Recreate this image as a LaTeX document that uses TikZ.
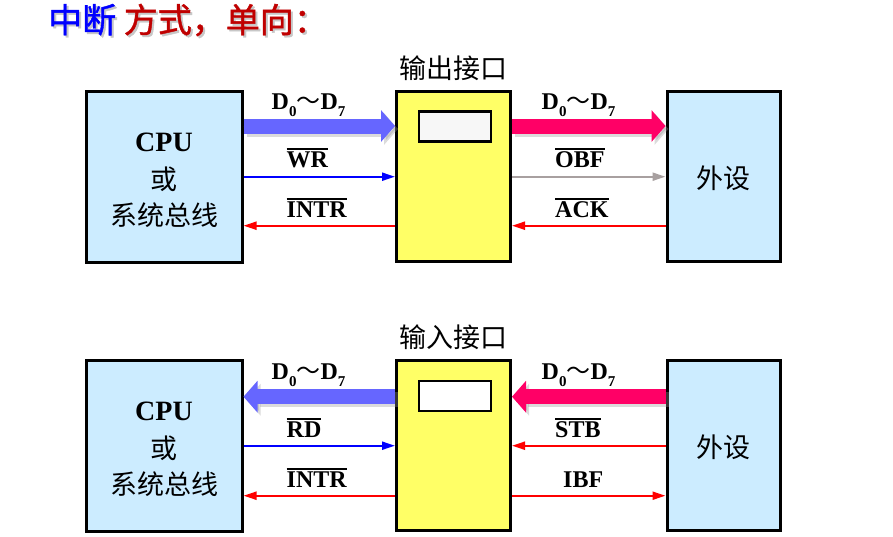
\documentclass[tikz,border=0pt]{standalone}
\usepackage{fontspec}
\setmainfont{Liberation Serif}
\newfontfamily\cjk{Noto Sans CJK SC}
\newfontfamily\cjkt[FakeBold=1.2]{Noto Sans CJK SC}
\usetikzlibrary{arrows.meta}
\definecolor{boxblue}{HTML}{CCECFF}
\definecolor{ifyellow}{HTML}{FFFF66}
\definecolor{fatblue}{HTML}{6666FF}
\definecolor{fatpink}{HTML}{FF0066}
\definecolor{titlered}{HTML}{C00000}
\definecolor{obfgray}{HTML}{A8A0A0}
\newcommand\mysub[1]{\raisebox{-0.28em}{\fontsize{15}{15}\selectfont #1}}
\newcommand\myov[1]{\leavevmode\vbox{\hrule height 1.8pt\kern 2.2pt\hbox{#1}}}
\newcommand\dd{D\mysub{0}{\cjk\mdseries ～}D\mysub{7}}
\tikzset{
  sidebox/.style={draw=black,line width=3pt,fill=boxblue,minimum width=156pt,minimum height=171pt,inner sep=0pt},
  periph/.style={draw=black,line width=3pt,fill=boxblue,minimum width=113pt,minimum height=170pt,inner sep=0pt},
  intfbox/.style={draw=black,line width=3pt,fill=ifyellow,minimum width=114pt,minimum height=170pt,inner sep=0pt},
  reg/.style={draw=black,line width=2.5pt,minimum width=72pt,minimum height=30pt,inner sep=0pt},
  fat/.style={line width=15pt,-{Triangle[length=14pt,width=31pt]}},
  fatshadow/.style={fat,draw=black!40,opacity=0.35},
  thin/.style={line width=2pt,-{Triangle[length=13pt,width=8pt]}},
  lbl/.style={font=\fontsize{24}{24}\selectfont\bfseries,anchor=west,inner sep=0pt},
  cjklabel/.style={font=\cjk\fontsize{27}{27}\selectfont,inner sep=0pt}
}
\begin{document}
\begin{tikzpicture}[x=1pt,y=-1pt]
\useasboundingbox[fill=white] (0,0) rectangle (893,536);
% title (with its soft shadow)
\node[anchor=west,inner sep=0pt,text=black!22,font=\cjkt\fontsize{34}{34}\selectfont] (tshadow) at (50,22) {中断 方式，单向：};
\node[anchor=west,inner sep=0pt,font=\cjkt\fontsize{34}{34}\selectfont] (title) at (48,20) {\textcolor{blue}{中断} \textcolor{titlered}{方式，单向：}};

% ---------- top: output ----------
\node[sidebox] (cpu1) at (164,176.5) {};
\node[font=\fontsize{28}{28}\selectfont\bfseries,inner sep=0pt] (cpu1a) at (164,142) {CPU};
\node[cjklabel] (cpu1b) at (164,179) {或};
\node[cjklabel] (cpu1c) at (164,215) {系统总线};
\node[intfbox] (if1) at (453.5,176.5) {};
\node[reg,fill=black!3] (reg1) at (455,126.7) {};
\node[cjklabel] (if1t) at (453.5,68) {输出接口};
\node[periph] (pe1) at (723.5,176.5) {};
\node[cjklabel] (pe1t) at (723.5,178) {外设};

\draw[fatshadow] ([xshift=3pt,yshift=-3pt]cpu1.east |- 0,126) -- ([xshift=3pt,yshift=-3pt]if1.west |- 0,126);
\draw[fat,draw=fatblue,fill=fatblue] (cpu1.east |- 0,126) -- (if1.west |- 0,126);
\draw[fatshadow] ([xshift=3pt,yshift=-3pt]if1.east |- 0,126) -- ([xshift=3pt,yshift=-3pt]pe1.west |- 0,126);
\draw[fat,draw=fatpink,fill=fatpink] (if1.east |- 0,126) -- (pe1.west |- 0,126);
\draw[thin,blue] (cpu1.east |- 0,176.7) -- (if1.west |- 0,176.7);
\draw[thin,red] (if1.west |- 0,225.7) -- (cpu1.east |- 0,225.7);
\draw[thin,obfgray] (if1.east |- 0,176.7) -- (pe1.west |- 0,176.7);
\draw[thin,red] (pe1.west |- 0,225.7) -- (if1.east |- 0,225.7);

\node[lbl] (l1) at (271.5,105) {\dd};
\node[lbl] (l2) at (286.5,158) {\myov{WR}};
\node[lbl] (l3) at (286.5,208) {\myov{INTR}};
\node[lbl] (l4) at (541.5,105) {\dd};
\node[lbl] (l5) at (555,158) {\myov{OBF}};
\node[lbl] (l6) at (555,208) {\myov{ACK}};

% ---------- bottom: input ----------
\node[sidebox] (cpu2) at (164,445.5) {};
\node[font=\fontsize{28}{28}\selectfont\bfseries,inner sep=0pt] (cpu2a) at (164,411) {CPU};
\node[cjklabel] (cpu2b) at (164,448) {或};
\node[cjklabel] (cpu2c) at (164,484) {系统总线};
\node[intfbox] (if2) at (453.5,445.5) {};
\node[reg,fill=white] (reg2) at (455,396.2) {};
\node[cjklabel] (if2t) at (453.5,337) {输入接口};
\node[periph] (pe2) at (723.5,445.5) {};
\node[cjklabel] (pe2t) at (723.5,447) {外设};

\draw[fatshadow] ([xshift=3pt,yshift=-3pt]if2.west |- 0,396.7) -- ([xshift=3pt,yshift=-3pt]cpu2.east |- 0,396.7);
\draw[fat,draw=fatblue,fill=fatblue] (if2.west |- 0,396.7) -- (cpu2.east |- 0,396.7);
\draw[fatshadow] ([xshift=3pt,yshift=-3pt]pe2.west |- 0,396.7) -- ([xshift=3pt,yshift=-3pt]if2.east |- 0,396.7);
\draw[fat,draw=fatpink,fill=fatpink] (pe2.west |- 0,396.7) -- (if2.east |- 0,396.7);
\draw[thin,blue] (cpu2.east |- 0,445.7) -- (if2.west |- 0,445.7);
\draw[thin,red] (if2.west |- 0,495.7) -- (cpu2.east |- 0,495.7);
\draw[thin,red] (pe2.west |- 0,445.7) -- (if2.east |- 0,445.7);
\draw[thin,red] (if2.east |- 0,495.7) -- (pe2.west |- 0,495.7);

\node[lbl] (m1) at (271.5,375) {\dd};
\node[lbl] (m2) at (286.5,428) {\myov{RD}};
\node[lbl] (m3) at (286.5,478) {\myov{INTR}};
\node[lbl] (m4) at (541.5,375) {\dd};
\node[lbl] (m5) at (555,428) {\myov{STB}};
\node[lbl] (m6) at (563,480) {IBF};
\end{tikzpicture}
\end{document}
